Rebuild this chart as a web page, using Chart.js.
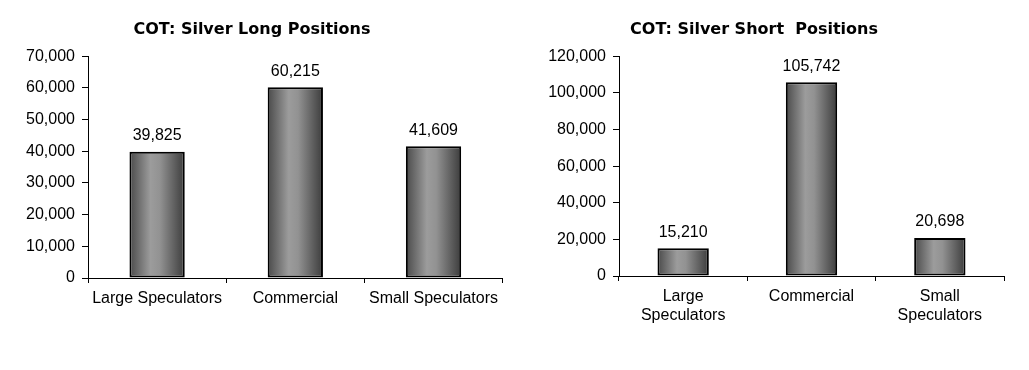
<!DOCTYPE html>
<html>
<head>
<meta charset="utf-8">
<script src="https://cdn.jsdelivr.net/npm/chart.js@4/dist/chart.umd.min.js"></script>
<style>
html,body{margin:0;padding:0;background:#fff;}
body{width:1029px;height:370px;position:relative;overflow:hidden;}
#w1{position:absolute;left:0;top:0;width:504px;height:370px;}
#w2{position:absolute;left:504px;top:0;width:525px;height:370px;}
</style>
</head>
<body>
<div id="w1"><canvas id="c1"></canvas></div>
<div id="w2"><canvas id="c2"></canvas></div>
<script>
// ---- data ----
const longTitle = 'COT: Silver Long Positions';
const shortTitle = 'COT: Silver Short  Positions';
const longCategories = ['Large Speculators', 'Commercial', 'Small Speculators'];
const shortCategories = [['Large', 'Speculators'], 'Commercial', ['Small', 'Speculators']];
const longValues = [39825, 60215, 41609];
const shortValues = [15210, 105742, 20698];
const longTicks = [0, 10000, 20000, 30000, 40000, 50000, 60000, 70000];
const shortTicks = [0, 20000, 40000, 60000, 80000, 100000, 120000];

const fmt = v => Number(v).toLocaleString('en-US');
const tickFont = {family: '"Liberation Sans", Arial, sans-serif', size: 16};

const barGradient = (ctx) => {
  const chart = ctx.chart;
  const xs = chart.scales && chart.scales.x;
  if (!xs || !chart.chartArea) return '#888';
  const n = chart.data.labels.length;
  const cx = xs.getPixelForValue(ctx.dataIndex);
  const w = xs.width / n * 0.4;
  const g = chart.ctx.createLinearGradient(cx - w / 2, 0, cx + w / 2, 0);
  g.addColorStop(0, '#4a4a4a');
  g.addColorStop(0.38, '#9c9c9c');
  g.addColorStop(0.55, '#929292');
  g.addColorStop(1, '#3c3c3c');
  return g;
};

const valueLabels = {
  id: 'valueLabels',
  afterDatasetsDraw(chart) {
    const c = chart.ctx;
    const meta = chart.getDatasetMeta(0);
    c.save();
    c.font = '16px "Liberation Sans", Arial, sans-serif';
    c.fillStyle = '#000';
    c.textAlign = 'center';
    c.textBaseline = 'middle';
    meta.data.forEach((el, i) => {
      c.fillText(fmt(chart.data.datasets[0].data[i]), el.x, el.y - 16);
    });
    c.restore();
  }
};

function makeChart(id, title, cats, vals, ticks, yWidth, padRight, bottomH) {
  const max = ticks[ticks.length - 1];
  const step = ticks[1] - ticks[0];
  return new Chart(document.getElementById(id), {
    type: 'bar',
    data: {
      labels: cats,
      datasets: [{
        data: vals,
        backgroundColor: barGradient,
        borderColor: '#000',
        borderWidth: 2,
        borderSkipped: false,
        barPercentage: 0.4,
        categoryPercentage: 1.0
      }]
    },
    options: {
      responsive: true,
      maintainAspectRatio: false,
      animation: false,
      devicePixelRatio: 1,
      layout: {padding: {top: 0, left: 0, right: padRight, bottom: 0}},
      plugins: {
        legend: {display: false},
        tooltip: {enabled: false},
        title: {
          display: true,
          text: title,
          color: '#000',
          font: {family: '"DejaVu Sans", Verdana, sans-serif', size: 16, weight: 'bold', lineHeight: 1.2},
          padding: {top: 20, bottom: 17}
        }
      },
      scales: {
        x: {
          offset: true,
          border: {display: true, color: '#000', width: 1},
          grid: {display: true, offset: true, drawOnChartArea: false, drawTicks: true, tickLength: 5, color: '#000'},
          ticks: {color: '#000', font: tickFont, padding: 6, maxRotation: 0, autoSkip: false},
          afterFit(s) { s.height = bottomH; }
        },
        y: {
          min: 0, max: max,
          border: {display: true, color: '#000', width: 1},
          grid: {display: true, drawOnChartArea: false, drawTicks: true, tickLength: 6, color: '#000'},
          ticks: {color: '#000', font: tickFont, padding: 7, stepSize: step, callback: v => fmt(v)},
          afterFit(s) { s.width = yWidth; }
        }
      }
    },
    plugins: [valueLabels]
  });
}

makeChart('c1', longTitle, longCategories, longValues, longTicks, 88, 0, 92);
makeChart('c2', shortTitle, shortCategories, shortValues, shortTicks, 115, 25, 94);
</script>
</body>
</html>
